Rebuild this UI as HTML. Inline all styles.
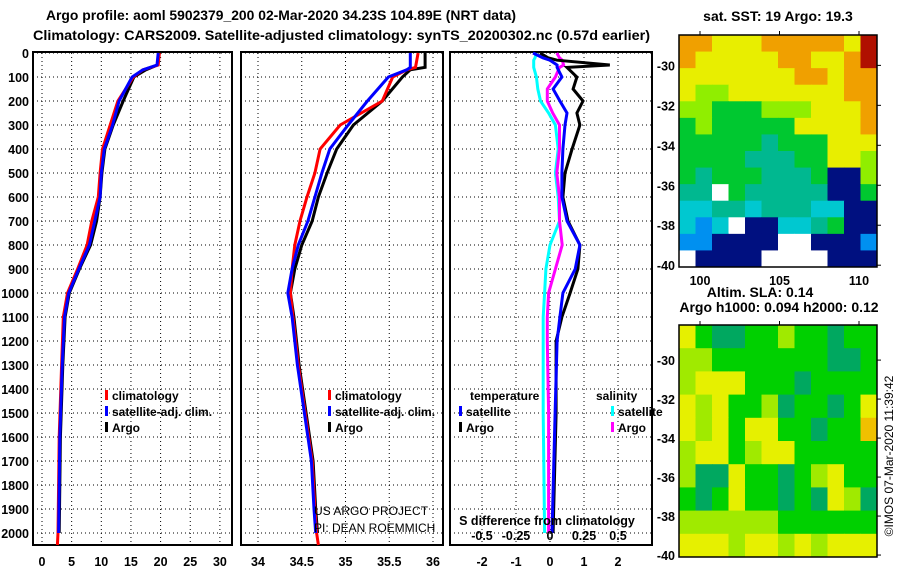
<!DOCTYPE html>
<html><head><meta charset="utf-8">
<style>
body{margin:0;background:#fff;}
svg{display:block;font-family:"Liberation Sans",sans-serif;}
.t{font-weight:bold;font-size:14px;}
.tk{font-weight:bold;font-size:12.5px;}
</style></head>
<body>
<svg id="c" width="900" height="580" viewBox="0 0 900 580">
<text class="t" x="46" y="20" textLength="470" lengthAdjust="spacingAndGlyphs">Argo profile: aoml 5902379_200 02-Mar-2020 34.23S 104.89E (NRT data)</text>
<text class="t" x="33" y="40" textLength="617" lengthAdjust="spacingAndGlyphs">Climatology: CARS2009. Satellite-adjusted climatology: synTS_20200302.nc (0.57d earlier)</text>
<text class="t" x="778" y="21" text-anchor="middle" font-size="13">sat. SST: 19 Argo: 19.3</text>
<text class="t" x="760" y="297" text-anchor="middle" font-size="12">Altim. SLA: 0.14</text>
<text class="t" x="779" y="312" text-anchor="middle" font-size="12">Argo h1000: 0.094 h2000: 0.12</text>
<text x="893" y="456" font-size="12" text-anchor="middle" transform="rotate(-90 893 456)">©IMOS 07-Mar-2020 11:39:42</text>
</svg>
<script>
// ---------- data ----------
const tDepths=[0,50,70,100,200,300,400,500,600,700,800,900,1000,1100,1300,1600,2000,2050];
const tArgo=[19.7,19.5,17.5,15.5,13.7,12,10.6,10.1,9.8,9.2,8.2,6.3,4.6,3.9,3.5,3.1,2.9,null];
const tClim=[19.8,19.6,17,15.4,12.8,11.5,10.2,9.8,9.5,8.4,7.6,6,4.3,3.6,3.3,2.9,2.7,2.6];
const tSat=[19.6,19.4,17,15.2,13,11.9,10.5,10,9.8,8.9,8,6.2,4.5,3.8,3.4,3.0,2.8,null];
const sDepths=[0,60,70,100,200,300,400,500,600,700,800,900,1000,1100,1300,1500,1700,1900,2000,2050];
const sArgo=[35.91,35.91,35.74,35.65,35.42,35.09,34.9,34.79,34.69,34.62,34.5,34.42,34.37,34.41,34.47,34.55,34.63,34.66,34.68,null];
const sClim=[35.83,35.8,35.7,35.54,35.42,34.94,34.71,34.65,34.56,34.48,34.42,34.39,34.37,34.4,34.46,34.54,34.62,34.65,34.67,34.69];
const sSat=[35.74,35.74,35.7,35.49,35.25,35.03,34.82,34.73,34.65,34.57,34.46,34.39,34.34,34.39,34.45,34.53,34.61,34.64,34.66,null];
const dDepths=[0,20,30,50,60,100,150,200,250,300,400,500,600,700,800,900,1000,1100,1200,1500,2000];
const dTArgo=[-0.29,-0.06,0.21,1.76,0.5,0.79,0.68,0.97,0.79,0.88,0.65,0.44,0.38,0.53,0.88,0.82,0.59,0.35,0.18,0.18,0.09];
const dTSat=[-0.5,-0.21,0,0.21,0.21,0.35,0.09,0.29,0.5,0.44,0.38,0.35,0.35,0.5,0.88,0.74,0.38,0.29,0.21,0.15,0.06];
const dSSat=[-0.1,-0.11,-0.12,-0.12,-0.12,-0.1,-0.09,-0.07,-0.01,0.04,0.06,0.04,0.06,0.07,0,-0.03,-0.04,-0.05,-0.05,-0.05,-0.04];
const dSArgo=[0.05,0.07,0.09,0.1,0.07,0.04,-0.02,-0.02,0.02,0.07,0.07,0.05,0.07,0.07,0.09,0.04,-0.01,-0.02,-0.02,-0.01,-0.01];
const depthTicks=[0,100,200,300,400,500,600,700,800,900,1000,1100,1200,1300,1400,1500,1600,1700,1800,1900,2000];
const tTicks=[0,5,10,15,20,25,30];
const sTicks=[34,34.5,35,35.5,36];
const sTickLabels=["34","34.5","35","35.5","36"];
const dTTicks=[-2,-1,0,1,2];
const dSTicks=[-0.5,-0.25,0,0.25,0.5];
const dSTickLabels=["-0.5","-0.25","0","0.25","0.5"];
const latTicks=[-30,-32,-34,-36,-38,-40];
const lonTicks=[100,105,110];
const sstGrid=["ooyyyoooooyr","oyyyyyooyyor","yyyyyyyooyoo","yllyyyyyyyoo","llggglllyyyo","glgggggyyyyo","gggggtgggyyy","ggggtttggyyl","gtgggtttgnnl","ttwgtttttnng","ccttctttccnn","cbcwnncctgnn","bbnnnnwwnnnb","wnnnnwwwwnnn"];
const slaGrid=["ygttgglggtgg","llgggggggttg","lyyygggtgggg","ylyggltggtgy","ylygyyggtggo","lyyglyyggggg","lttyggtglygg","gtgyggtgtylt","llllllgggggg","yyylyylylyyy"];
// ---------- drawing ----------
const svg=document.getElementById('c');
const NS='http://www.w3.org/2000/svg';
function mk(tag,attrs,parent){const e=document.createElementNS(NS,tag);for(const k in attrs)e.setAttribute(k,attrs[k]);(parent||svg).appendChild(e);return e;}
const yD=d=>53+d*0.24;
const panels=[
 {x0:33,x1:232,sx:v=>42+v*5.93,ticks:tTicks,labels:tTicks.map(String),name:'temperature'},
 {x0:241,x1:443,sx:v=>258+(v-34)*87.5,ticks:sTicks,labels:sTickLabels,name:'salinity'},
 {x0:450,x1:652,sx:v=>550+v*34,ticks:dTTicks,labels:dTTicks.map(String),name:'difference'}
];
const yBot=545;
panels.forEach((p,i)=>{
 const g=mk('g',{});
 
 
 depthTicks.forEach(d=>{const l=mk('line',{x1:p.x0,x2:p.x1,y1:yD(d),y2:yD(d),stroke:'#000','stroke-width':1,'stroke-dasharray':'1,3'},g);
  });
 p.ticks.forEach((v,j)=>{const x=p.sx(v);
  const l=mk('line',{x1:x,x2:x,y1:53,y2:yBot,stroke:'#000','stroke-width':1,'stroke-dasharray':'1,3'},g);
  
  const t=mk('text',{x:x,y:566,'text-anchor':'middle',class:'tk'},g);t.textContent=p.labels[j];
  });
 const r=mk('rect',{x:p.x0,y:yD(0)-1,width:p.x1-p.x0,height:yBot-yD(0)+1,fill:'none',stroke:'#000','stroke-width':2},g);
 
});
depthTicks.forEach(d=>{const t=mk('text',{x:29,y:yD(d)+5,'text-anchor':'end',class:'tk'});t.textContent=d;
 });
function line(depths,vals,sx,color,name){
 let pts=[];depths.forEach((d,i)=>{if(vals[i]!=null)pts.push(sx(vals[i]).toFixed(1)+','+yD(d).toFixed(1));});
 const pl=mk('polyline',{points:pts.join(' '),fill:'none',stroke:color,'stroke-width':3,'stroke-linejoin':'miter'});
 
 
}
const sxT=panels[0].sx,sxS=panels[1].sx,sxD=panels[2].sx,sxDS=v=>550+v*136;
line(tDepths,tArgo,sxT,'#000','argo-temperature-line');
line(tDepths,tClim,sxT,'#f00','clim-temperature-line');
line(tDepths,tSat,sxT,'#00f','sat-temperature-line');
line(sDepths,sArgo,sxS,'#000','argo-salinity-line');
line(sDepths,sClim,sxS,'#f00','clim-salinity-line');
line(sDepths,sSat,sxS,'#00f','sat-salinity-line');
line(dDepths,dSSat,sxDS,'#0ff','sat-salinity-diff-line');
line(dDepths,dSArgo,sxDS,'#f0f','argo-salinity-diff-line');
line(dDepths,dTArgo,sxD,'#000','argo-temperature-diff-line');
line(dDepths,dTSat,sxD,'#00f','sat-temperature-diff-line');
const st=mk('text',{x:547,y:525,'text-anchor':'middle',class:'tk'});st.textContent='S difference from climatology';

dSTicks.forEach((v,j)=>{const t=mk('text',{x:sxDS(v),y:540,'text-anchor':'middle',class:'tk'});t.textContent=dSTickLabels[j];
 });
[['US ARGO PROJECT',314,515],['PI: DEAN ROEMMICH',314,532]].forEach(a=>{const t=mk('text',{x:a[1],y:a[2],'font-size':'12px'});t.textContent=a[0];
 });
function leg(x,y,color,label){const g=mk('g',{});
 
 mk('rect',{x:x,y:y-10,width:3,height:10,fill:color},g);
 const t=mk('text',{x:x+7,y:y,'font-size':'12px','font-weight':'bold'},g);t.textContent=label;}
leg(105,400,'#f00','climatology');leg(105,416,'#00f','satellite-adj. clim.');leg(105,432,'#000','Argo');
leg(328,400,'#f00','climatology');leg(328,416,'#00f','satellite-adj. clim.');leg(328,432,'#000','Argo');
[['temperature',470,400],['salinity',596,400]].forEach(a=>{const t=mk('text',{x:a[1],y:a[2],'font-size':'12px','font-weight':'bold'});t.textContent=a[0];
 });
leg(459,416,'#00f','satellite');leg(459,432,'#000','Argo');
leg(611,416,'#0ff','satellite');leg(611,432,'#f0f','Argo');
const pal={r:'#b01000',o:'#f0a000',y:'#e8ee00',l:'#90ee00',g:'#00c830',t:'#00b890',c:'#00c8d0',b:'#0090f0',n:'#001080',w:'#ffffff'};
const palSla={y:'#e6f000',l:'#a0ea00',g:'#00d000',t:'#00a860',o:'#f0c000'};
function map(y0,y1,grid,p,name,showLon,latTop,latSpan){
 const x0=679,x1=877;const g=mk('g',{});
 
 const rows=grid.length,cols=grid[0].length,cw=(x1-x0)/cols,ch=(y1-y0)/rows;
 grid.forEach((row,ri)=>{for(let ci=0;ci<cols;ci++){mk('rect',{x:x0+ci*cw,y:y0+ri*ch,width:cw+0.5,height:ch+0.5,fill:p[row[ci]]},g);}});
 mk('rect',{x:x0,y:y0,width:x1-x0,height:y1-y0,fill:'none',stroke:'#000','stroke-width':1.5},g);
 const yl=v=>y0+(y1-y0)*((-v-latTop)/latSpan);
 latTicks.forEach(v=>{const y=yl(v);mk('line',{x1:x1,x2:x1+4,y1:y,y2:y,stroke:'#000'},g);
  const t=mk('text',{x:675,y:y+5,'text-anchor':'end',class:'tk'},g);t.textContent=v;
  });
 lonTicks.forEach(v=>{const x=700+(v-100)*15.9;mk('line',{x1:x,x2:x,y1:y0-4,y2:y0,stroke:'#000'},g);
  if(showLon){const t=mk('text',{x:x,y:y1+18,'text-anchor':'middle',class:'tk'},g);t.textContent=v;
  }});
}
map(35,267,sstGrid,pal,'sst-map',true,28.48,11.61);
map(325,557,slaGrid,palSla,'sla-map',false,28.2,11.9);
</script>
</body></html>
